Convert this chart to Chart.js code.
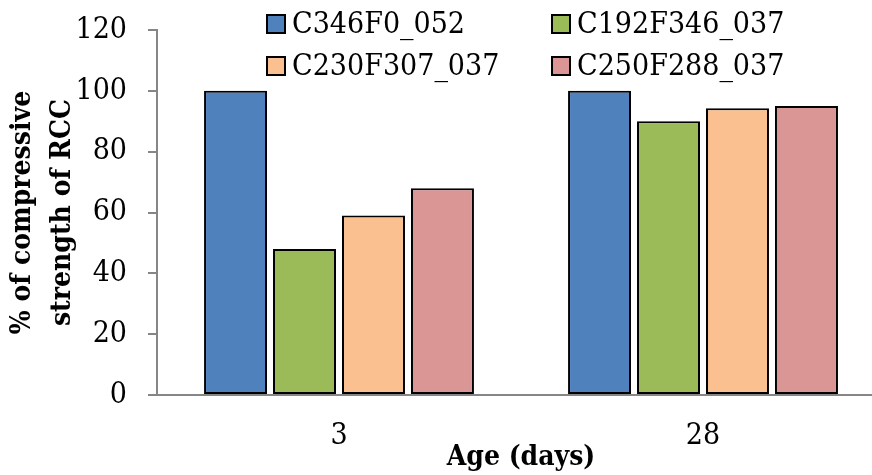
<!DOCTYPE html>
<html>
<head>
<meta charset="utf-8">
<script src="https://cdn.jsdelivr.net/npm/chart.js@4"></script>
<style>
  html, body { margin: 0; padding: 0; background: #fff; overflow: hidden; }
  #wrap { position: relative; width: 890px; height: 475px; }
</style>
</head>
<body>
<div id="wrap"><canvas id="chart"></canvas></div>
<script>
// Age at testing (days)
const ages = ['3', '28'];

// Mix designations
const mixNames = ['C346F0_052', 'C192F346_037', 'C230F307_037', 'C250F288_037'];

// % of the compressive strength of the reference RCC mix
const strengthC346F0 = [100, 100];
const strengthC192F346 = [48, 90];
const strengthC230F307 = [59, 94.3];
const strengthC250F288 = [68, 95];

// Y axis ticks
const yTicks = [0, 20, 40, 60, 80, 100, 120];

const fillColors = ['#4F81BD', '#9BBB59', '#FAC090', '#D99694'];
const seriesValues = [strengthC346F0, strengthC192F346, strengthC230F307, strengthC250F288];

const axisGray = '#868686';
const textFont = '"DejaVu Serif Condensed", "DejaVu Serif", serif';

// Two-column legend drawn over the top of the plot
const gridLegend = {
  id: 'gridLegend',
  afterDraw(chart) {
    const ctx = chart.ctx;
    const area = chart.chartArea;
    const colX = [area.left + 110, area.left + 395];
    const rowY = [24, 66];
    const box = 18;
    ctx.save();
    ctx.font = '30px ' + textFont;
    ctx.textBaseline = 'middle';
    ctx.textAlign = 'left';
    chart.data.datasets.forEach((ds, i) => {
      const x = colX[i % 2];
      const y = rowY[Math.floor(i / 2)];
      ctx.fillStyle = ds.backgroundColor;
      ctx.fillRect(x, y - box / 2, box, box);
      ctx.lineWidth = 2;
      ctx.strokeStyle = '#000';
      ctx.strokeRect(x, y - box / 2, box, box);
      ctx.fillStyle = '#000';
      ctx.fillText(ds.label, x + box + 7, y + 1);
    });
    ctx.restore();
  }
};

new Chart(document.getElementById('chart'), {
  type: 'bar',
  data: {
    labels: ages,
    datasets: mixNames.map((name, i) => ({
      label: name,
      data: seriesValues[i],
      backgroundColor: fillColors[i],
      borderColor: '#000',
      borderWidth: 2,
      borderSkipped: false,
      categoryPercentage: 0.758,
      barPercentage: 0.913
    }))
  },
  options: {
    responsive: true,
    maintainAspectRatio: false,
    animation: false,
    devicePixelRatio: 1,
    layout: { padding: { top: 30, right: 5, left: 0, bottom: 0 } },
    plugins: {
      legend: { display: false },
      tooltip: { enabled: false }
    },
    scales: {
      x: {
        grid: { display: false, drawTicks: false },
        border: { display: true, color: axisGray, width: 2 },
        ticks: {
          color: '#000',
          padding: 23,
          font: { family: textFont, size: 30 }
        },
        title: {
          display: true,
          text: 'Age (days)',
          color: '#000',
          padding: { top: 0, bottom: 0 },
          font: { family: textFont, size: 28, weight: 'bold' }
        },
        afterFit(scale) { scale.height = 80; }
      },
      y: {
        min: 0,
        max: 120,
        afterBuildTicks(scale) { scale.ticks = yTicks.map(v => ({ value: v })); },
        grid: {
          drawOnChartArea: false,
          drawTicks: true,
          tickLength: 9,
          color: axisGray,
          lineWidth: 2
        },
        border: { display: true, color: axisGray, width: 2 },
        ticks: {
          color: '#000',
          padding: 21,
          font: { family: textFont, size: 30 }
        },
        title: {
          display: true,
          text: ['% of compressive', 'strength of RCC'],
          color: '#000',
          padding: { top: 3, bottom: 0 },
          font: { family: textFont, size: 28, weight: 'bold', lineHeight: 1.42 }
        },
        afterFit(scale) {
          scale.width = 157;
          scale.paddingTop = 0;
        }
      }
    }
  },
  plugins: [gridLegend]
});
</script>
</body>
</html>
